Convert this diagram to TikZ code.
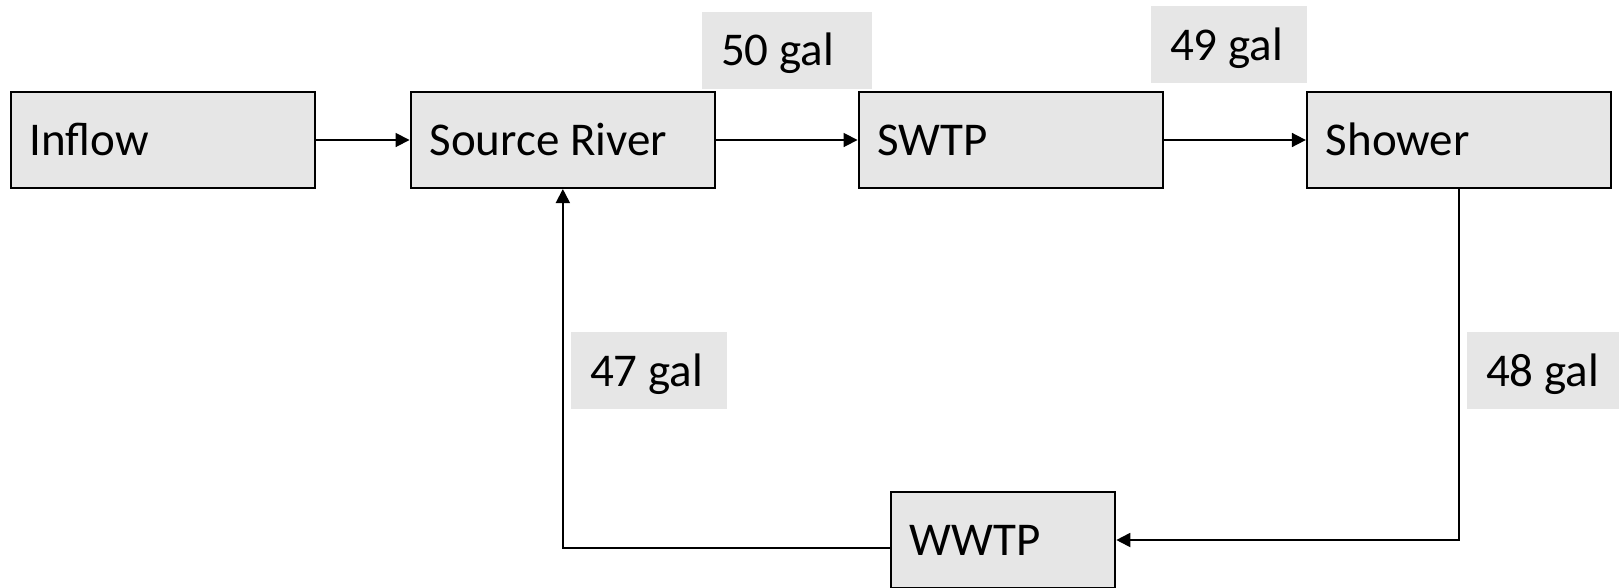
\documentclass[tikz,border=0pt]{standalone}
\usepackage{fontspec}
\setmainfont{Carlito}
\usetikzlibrary{arrows.meta}
\definecolor{boxgray}{RGB}{230,230,230}
\begin{document}
\begin{tikzpicture}[x=1pt,y=-1pt,
  txt/.style={font=\fontsize{47}{56}\selectfont, text height=38pt, text depth=7pt, align=flush left, inner xsep=19pt},
  box/.style={txt, draw=black, line width=2pt, fill=boxgray, minimum height=96pt, text width=#1},
  box/.default=266.6pt,
  lbl/.style={txt, fill=boxgray, minimum height=77pt, text width=#1},
  arr/.style={draw=black, line width=1.8pt, -{Triangle[length=14pt,width=14pt]}},
]
\useasboundingbox (0,0) rectangle (1620,587);
\fill[white] (0,0) rectangle (1620,587);

\node[box] (inflow) at (163,140) {Inflow};
\node[box] (source) at (562.85,140) {Source River};
\node[box] (swtp) at (1010.85,140) {SWTP};
\node[box] (shower) at (1459.15,140) {Shower};
\node[box=186.6pt] (wwtp) at (1003,540) {WWTP};

\node[lbl=132pt] (l50) at (787,50) {50 gal};
\node[lbl=118pt] (l49) at (1229,44.7) {49 gal};
\node[lbl=118pt] (l47) at (649,370.7) {47 gal};
\node[lbl=114pt] (l48) at (1543,370.7) {48 gal};

\draw[arr] (inflow.east) -- (source.west);
\draw[arr] (source.east) -- (swtp.west);
\draw[arr] (swtp.east) -- (shower.west);
\draw[arr] (shower.south) |- (wwtp.east);
\draw[arr] ([yshift=-7.7pt]wwtp.west) -| (source.south);
\end{tikzpicture}
\end{document}
